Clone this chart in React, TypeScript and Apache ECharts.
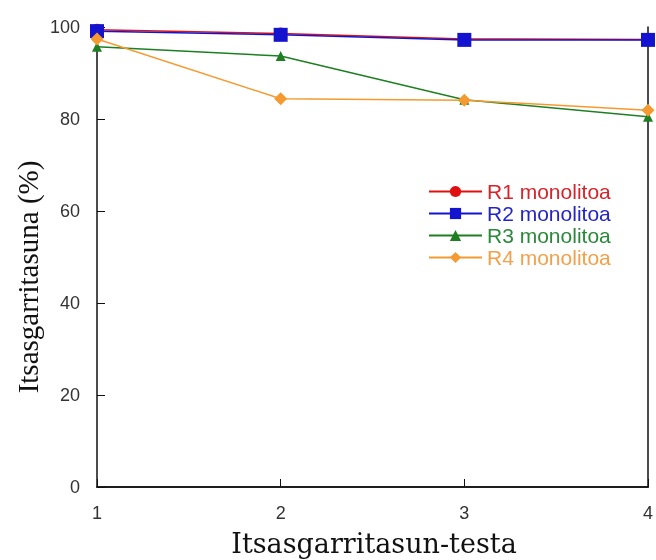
import React, { useEffect, useRef } from "react";
import * as echarts from "echarts";

const tests = [1, 2, 3, 4];
const r1 = [99.4, 98.6, 97.4, 97.3];
const r2 = [99.1, 98.3, 97.2, 97.2];
const r3 = [95.7, 93.7, 84.2, 80.5];
const r4 = [97.4, 84.4, 84.1, 81.9];
const seriesNames = ["R1 monolitoa", "R2 monolitoa", "R3 monolitoa", "R4 monolitoa"];
const yTicks = [0, 20, 40, 60, 80, 100];
const xTitle = "Itsasgarritasun-testa";
const yTitle = "Itsasgarritasuna (%)";

const colors = ["#e01010", "#1414d0", "#1e7f22", "#f59a30"];
const textColors = ["#d8232a", "#2424c8", "#2a8a3a", "#f4a04a"];
const symbols = ["circle", "rect", "triangle", "diamond"];
const symbolSizes = [12, 14, 10, 13];

export default function App() {
  const ref = useRef<HTMLDivElement>(null);
  useEffect(() => {
    if (!ref.current) return;
    const chart = echarts.init(ref.current, undefined, { renderer: "svg" });
    const datasets = [r1, r2, r3, r4];
    const axisLine = { show: true, lineStyle: { color: "#111", width: 1.5 } };
    const labelStyle = { fontFamily: "Liberation Sans, Arial", fontSize: 18, color: "#333" };
    chart.setOption({
      animation: false,
      grid: { left: 97, right: 4, top: 27, bottom: 73 },
      legend: {
        orient: "vertical",
        left: 423,
        top: 176,
        itemWidth: 53,
        itemHeight: 14,
        itemGap: 1,
        textStyle: { fontFamily: "Liberation Sans, Arial", fontSize: 21 },
        data: seriesNames.map((n, i) => ({ name: n, textStyle: { color: textColors[i] } })),
      },
      graphic: [
        {
          type: "text",
          x: 374,
          y: 530,
          style: {
            text: xTitle,
            fontFamily: "DejaVu Serif",
            fontSize: 27,
            fill: "#111",
            align: "center",
            verticalAlign: "top",
          },
        },
        {
          type: "text",
          x: 13,
          y: 277,
          rotation: Math.PI / 2,
          style: {
            text: yTitle,
            fontFamily: "Liberation Serif",
            fontSize: 29,
            fill: "#111",
            align: "center",
            verticalAlign: "top",
          },
        },
      ],
      xAxis: [
        {
          type: "value",
          min: 1,
          max: 4,
          interval: 1,
          axisLine,
          axisTick: { show: true, inside: true, length: 8, lineStyle: { color: "#111" } },
          axisLabel: { ...labelStyle, margin: 17 },
          splitLine: { show: false },
        },
        {
          type: "value",
          position: "top",
          min: 1,
          max: 4,
          interval: 1,
          axisLine,
          axisTick: { show: false },
          axisLabel: { show: false },
          splitLine: { show: false },
        },
      ],
      yAxis: [
        {
          type: "value",
          min: yTicks[0],
          max: yTicks[yTicks.length - 1],
          interval: 20,
          axisLine,
          axisTick: { show: true, inside: true, length: 8, lineStyle: { color: "#111" } },
          axisLabel: { ...labelStyle, margin: 17 },
          splitLine: { show: false },
        },
        {
          type: "value",
          position: "right",
          min: 0,
          max: 100,
          interval: 20,
          axisLine,
          axisTick: { show: false },
          axisLabel: { show: false },
          splitLine: { show: false },
        },
      ],
      series: datasets.map((d, i) => ({
        name: seriesNames[i],
        type: "line",
        data: tests.map((t, j) => [t, d[j]]),
        symbol: symbols[i],
        symbolSize: symbolSizes[i],
        showAllSymbol: true,
        clip: false,
        lineStyle: { color: colors[i], width: 1.5 },
        itemStyle: { color: colors[i] },
        z: 2 + i,
      })),
    });
    return () => chart.dispose();
  }, []);
  return (
    <div
      ref={ref}
      style={{ position: "fixed", left: 0, top: 0, width: 656, height: 560 }}
    />
  );
}
